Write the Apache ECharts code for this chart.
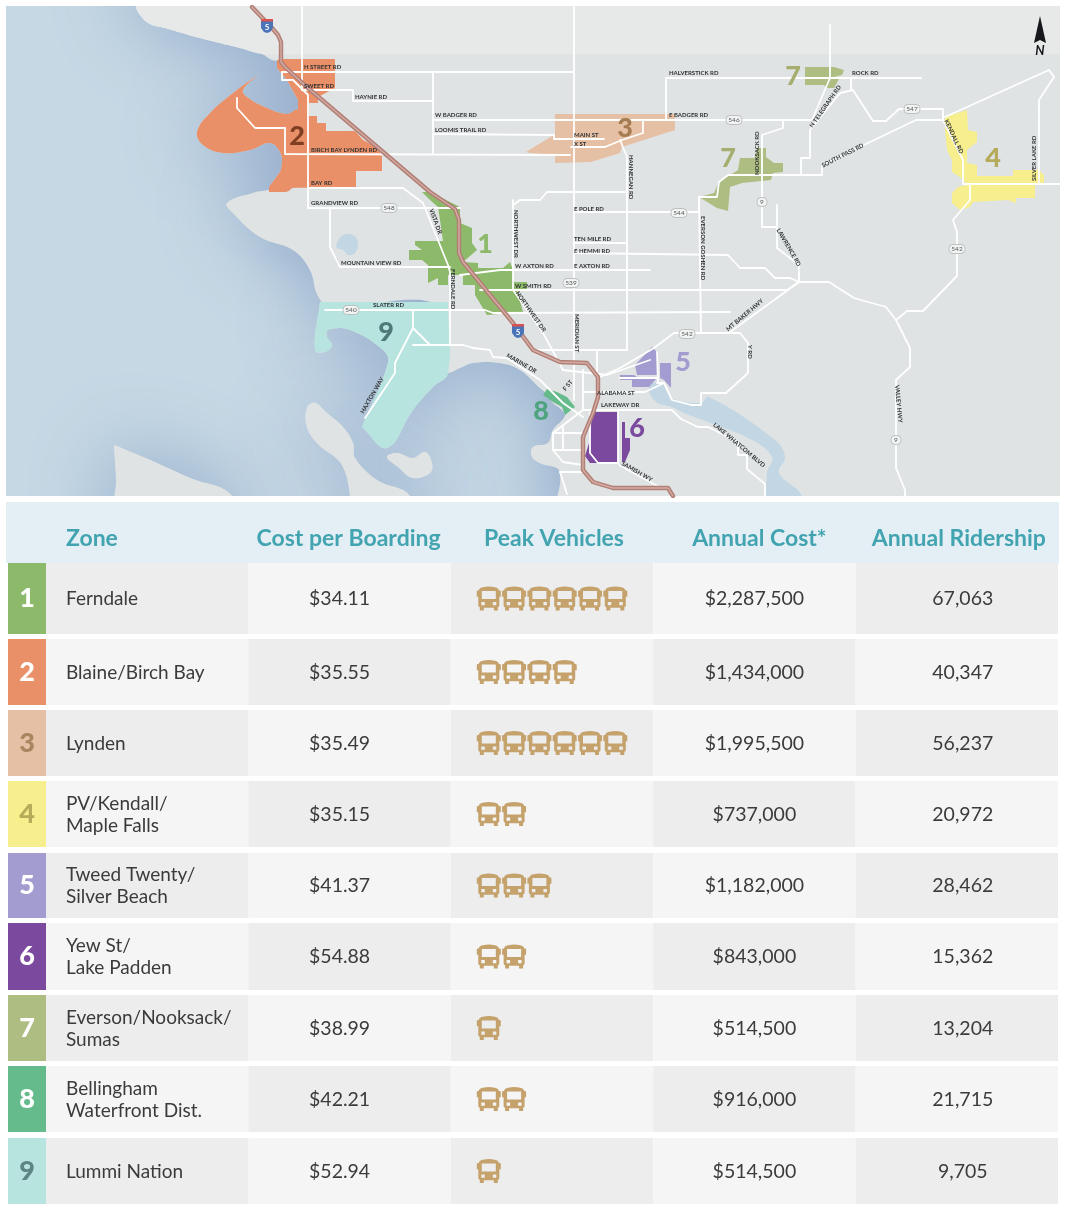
<!DOCTYPE html>
<html>
<head>
<meta charset="utf-8">
<title>Zone map and table</title>
<script src="https://cdn.jsdelivr.net/npm/echarts@6/dist/echarts.min.js"></script>
<style>
  html, body { margin: 0; padding: 0; background: #fff; }
  #chart { width: 1068px; height: 1214px; }
</style>
</head>
<body>
<div id="chart"></div>
<script>
// table values
const columns = ["Zone", "Cost per Boarding", "Peak Vehicles", "Annual Cost*", "Annual Ridership"];
const zoneNames = ["Ferndale", "Blaine/Birch Bay", "Lynden", "PV/Kendall/\nMaple Falls", "Tweed Twenty/\nSilver Beach", "Yew St/\nLake Padden", "Everson/Nooksack/\nSumas", "Bellingham\nWaterfront Dist.", "Lummi Nation"];
const costPerBoarding = [34.11, 35.55, 35.49, 35.15, 41.37, 54.88, 38.99, 42.21, 52.94];
const peakVehicles = [6, 4, 6, 2, 3, 2, 1, 2, 1];
const annualCost = [2287500, 1434000, 1995500, 737000, 1182000, 843000, 514500, 916000, 514500];
const annualRidership = [67063, 40347, 56237, 20972, 28462, 15362, 13204, 21715, 9705];

// row bands of the table, on the table's y axis
const rowTops = [563, 639, 710, 781, 853, 923, 995, 1066, 1138];
const rowBottoms = [634, 705, 776, 847, 918, 990, 1061, 1132, 1204];

// map: shoreline and water, in map units. land tucks under zones 2, 8 and 9
const landShapes = [
  [[136,-40],[136,6],[140,15],[150,24],[165,28],[200,38],[240,48],[262,54],[272,60],[281,62],[283,70],[291,82],[303,102],[306,150],[296,186],[269,190],[253,193],[227,203],[233,213],[260,237],[293,250],[310,270],[318,296],[330,306],[440,306],[440,370],[448,373],[460,368],[473,363],[500,363],[520,370],[540,388],[546,393],[553,403],[561,409],[565,416],[553,430],[548,443],[533,447],[532,457],[540,463],[560,472],[558,540],[1120,540],[1120,-40]],
  [[307,408],[315,403],[327,413],[343,427],[353,443],[355,458],[377,480],[410,496],[420,540],[363,540],[343,467],[317,443],[307,427]],
  [[387,457],[397,453],[413,458],[425,452],[432,463],[430,473],[413,478],[398,467]],
  [[114,445],[114,445],[150,460],[190,478],[232,496],[240,540],[114,540],[116,482]]
];
const canadaShape = [[136,-40],[136,6],[140,15],[150,24],[165,28],[200,38],[240,48],[262,54],[300,54],[500,54],[800,54],[1060,54],[1120,54],[1120,-40]];
const lakeShapes = [
  [[337,243],[343,235],[353,235],[358,243],[355,253],[348,255],[343,250],[337,248]],
  [[649,388],[661,382],[672,398],[701,403],[709,397],[775,440],[785,457],[779,473],[802,496],[810,540],[768,540],[767,473],[772,457],[752,440],[708,422],[684,413],[672,407],[656,402]]
];

// map: service zones, zoneShapeIds[i] is the zone of zoneShapes[i]
const zoneShapeIds = [1, 2, 3, 4, 5, 5, 5, 6, 6, 7, 7, 7, 8];
const zoneShapes = [
  [[422,192],[430,192],[460,207],[460,223],[472,228],[472,243],[477,250],[463,262],[478,263],[478,268],[503,268],[510,262],[513,270],[513,282],[527,282],[527,290],[517,290],[523,312],[487,315],[475,295],[475,285],[463,285],[463,275],[448,275],[448,285],[438,285],[438,278],[428,283],[428,265],[422,260],[409,260],[409,250],[422,250],[415,245],[415,241],[443,241],[440,220],[438,207],[430,200]],
  [[269,187],[269,192],[282,192],[282,188],[356,187],[356,171],[382,171],[382,156],[377,147],[363,140],[355,131],[326,131],[326,123],[317,123],[317,116],[309,116],[309,103],[318,103],[318,97],[335,88],[335,59],[282,59],[277,60],[277,68],[287,80],[298,100],[298,110],[295,130],[285,165]],
  [[555,114],[675,114],[675,130],[622,147],[620,153],[591,162],[555,163],[555,155],[530,153],[526,152],[552,136],[555,136]],
  [[945,117],[967,110],[968,130],[977,132],[977,142],[967,150],[967,163],[977,165],[977,176],[1013,176],[1013,170],[1039,170],[1044,175],[1044,183],[1035,185],[1035,198],[1016,198],[1016,203],[1008,200],[973,202],[970,207],[960,210],[952,203],[952,193],[958,187],[967,185],[960,177],[952,172],[952,160],[947,150],[945,130]],
  [[652,347],[657,352],[658,375],[637,375],[635,365]],
  [[620,375],[634,375],[637,377],[658,377],[649,387],[632,387],[632,380],[620,380]],
  [[660,363],[671,363],[671,388],[664,380],[660,378]],
  [[592,412],[618,412],[618,463],[590,463],[585,456],[590,440]],
  [[622,422],[625,422],[625,438],[630,438],[630,450],[625,462],[622,462]],
  [[805,67],[834,67],[844,70],[842,75],[834,77],[805,77]],
  [[805,79],[839,79],[834,88],[827,88],[824,85],[805,85]],
  [[740,158],[755,158],[757,148],[766,148],[766,157],[774,163],[783,163],[783,172],[773,173],[771,180],[742,183],[730,187],[728,211],[717,208],[699,197],[714,193],[719,182],[738,170]],
  [[547,389],[557,392],[567,397],[575,407],[565,415],[562,407],[553,402],[543,395]]
];
// the curved shore pieces of zones 2 and 9, repeated points keep their corners sharp
const coastZoneIds = [2, 9];
const coastZoneShapes = [
  [[258,75],[258,75],[237,90],[210,113],[197,132],[203,145],[223,153],[250,150],[270,143],[280,152],[282,163],[278,177],[270,187],[290,190],[305,150],[298,110],[287,114],[267,108],[247,97],[243,90],[258,75]],
  [[320,302],[320,302],[448,302],[448,302],[448,373],[433,387],[413,410],[387,448],[362,427],[362,427],[388,363],[383,350],[350,330],[328,330],[327,337],[332,345],[325,352],[315,350]]
];

// map: roads
const roads = [
  [[302,6],[302,90]],
  [[282,72],[282,80],[293,80],[308,95],[308,208]],
  [[308,208],[460,208]],
  [[308,188],[403,188],[423,203],[448,265],[450,272],[450,345]],
  [[413,345],[430,345],[463,345],[473,348],[490,350],[493,357],[507,358],[540,380],[563,403],[583,417]],
  [[413,311],[413,328],[430,345]],
  [[413,328],[395,363],[395,373],[365,418]],
  [[325,310],[485,310],[493,313],[730,312]],
  [[730,332],[799,282]],
  [[282,72],[574,72]],
  [[302,90],[353,90],[353,101],[433,101]],
  [[433,72],[433,153]],
  [[433,120],[812,120],[830,78],[830,25]],
  [[666,120],[666,78],[921,78]],
  [[433,134],[554,135],[554,139],[604,139]],
  [[643,120],[643,133],[622,140],[605,147],[571,147]],
  [[237,98],[237,108],[255,128],[285,128],[285,154],[570,155]],
  [[620,140],[627,157],[627,350]],
  [[574,6],[574,400]],
  [[513,200],[513,290],[543,333],[563,370]],
  [[513,205],[520,200],[540,200],[547,192],[627,192]],
  [[574,212],[699,212],[699,197],[717,197],[719,182],[728,175],[822,175],[822,165],[916,120],[943,120],[963,160],[963,184],[1060,184]],
  [[699,197],[701,333]],
  [[574,243],[627,243]],
  [[574,270],[627,270]],
  [[460,275],[500,270],[650,270]],
  [[480,290],[787,290],[799,282]],
  [[574,253],[728,255],[740,268],[765,268],[775,278],[790,278],[799,282]],
  [[777,205],[777,248],[799,265],[799,282]],
  [[783,120],[783,128],[762,135],[762,227],[777,227]],
  [[801,175],[801,158],[810,158],[810,130],[840,93],[853,90],[873,121],[886,121],[899,109],[943,109],[943,120]],
  [[851,78],[851,90]],
  [[945,117],[1049,70],[1054,77],[1039,100],[1039,184]],
  [[970,185],[970,200],[953,220],[957,232],[957,276],[923,311],[907,311],[896,320]],
  [[799,282],[829,282],[854,298],[886,307],[896,320],[910,348],[910,367],[896,380],[896,468],[905,490],[905,496]],
  [[600,377],[620,368],[654,348],[674,333],[740,333],[748,343],[748,373],[726,393],[701,393],[701,405],[691,405],[672,400],[664,383],[657,383]],
  [[657,352],[658,383]],
  [[620,378],[657,378]],
  [[583,410],[672,410],[681,419],[698,427],[708,427],[738,442],[738,455],[747,455],[747,469],[765,484],[765,496]],
  [[619,465],[661,488]],
  [[583,392],[645,392],[664,383]],
  [[533,350],[627,350]],
  [[597,350],[597,378]],
  [[583,370],[583,410]],
  [[563,370],[607,375],[650,360]],
  [[563,427],[563,450]],
  [[553,433],[583,433]],
  [[553,450],[583,450]],
  [[553,433],[583,410]],
  [[553,433],[553,450],[563,462],[583,465]],
  [[560,472],[583,472]],
  [[560,472],[567,494]],
  [[590,413],[590,453],[598,463],[618,463]],
  [[618,410],[618,463]],
  [[330,208],[330,247],[340,267],[450,267]]
];
const interstate5 = [[252,7],[272,28],[278,35],[281,42],[281,62],[285,67],[308,88],[430,192],[455,209],[459,220],[459,253],[463,262],[513,323],[533,350],[560,362],[587,363],[598,377],[598,397],[593,413],[583,437],[583,470],[593,482],[613,488],[668,488],[673,496]];
const shieldSpots = [[267,26],[518,331]];
const routeSpots = [[389,208,"548"],[351,310,"540"],[734,120,"546"],[912,109,"547"],[679,213,"544"],[571,283,"539"],[687,334,"542"],[957,249,"542"],[762,202,"9"],[896,440,"9"]];

// map: road names, [name, x, y, degrees counter-clockwise]
const roadNames = [
  ["H STREET RD",304,67,0],["SWEET RD",304,86,0],["HAYNIE RD",355,97,0],["W BADGER RD",435,115,0],["LOOMIS TRAIL RD",435,130,0],
  ["BIRCH BAY LYNDEN RD",311,150,0],["BAY RD",311,183,0],["GRANDVIEW RD",311,203,0],["MOUNTAIN VIEW RD",341,263,0],["SLATER RD",373,305,0],
  ["HALVERSTICK RD",669,73,0],["ROCK RD",852,73,0],["E BADGER RD",669,115,0],["MAIN ST",574,135,0],["X ST",574,144,0],
  ["E POLE RD",574,209,0],["TEN MILE RD",574,239,0],["E HEMMI RD",574,251,0],["E AXTON RD",574,266,0],["W AXTON RD",515,266,0],["W SMITH RD",515,286,0],
  ["ALABAMA ST",597,393,0],["LAKEWAY DR",601,405,0],
  ["HANNEGAN RD",631,155,-90],["VISTA DR",431,209,-70],["NORTHWEST DR",516,210,-90],["FERNDALE RD",453,269,-90],["NORTHWEST DR",517,292,-55],
  ["MERIDIAN ST",577,314,-90],["MARINE DR",507,355,-30],["HAXTON WAY",362,413,60],["F ST",564,390,50],["SAMISH WY",622,463,-30],
  ["LAKE WHATCOM BLVD",714,424,-40],["EVERSON GOSHEN RD",703,216,-90],["NOOKSACK RD",757,175,90],["N TELEGRAPH RD",811,127,55],["SOUTH PASS RD",822,166,27],
  ["KENDALL RD",946,120,-65],["SILVER LAKE RD",1034,181,90],["LAWRENCE RD",778,229,-60],["MT BAKER HWY",727,330,40],["Y RD",750,345,-90],["VALLEY HWY",897,385,-85]
];

// map: big zone numbers, [zone, x, y]
const zoneMarks = [[1,485,244],[2,297,136],[3,625,128],[4,993,158],[5,683,362],[6,637,428],[7,793,76],[7,728,158],[8,541,411],[9,386,332]];
const northArrow = [[1040,16],[1034,43],[1040,40],[1046,43]];

const zoneColors = ["#8db96a", "#ea9068", "#e6c0a4", "#f7ee8e", "#a39cd0", "#7b4a9e", "#aebd82", "#66bb8c", "#b8e4e0"];
const swatchTextColors = ["#fff", "#fff", "#ab8560", "#b5ab58", "#fff", "#fff", "#fff", "#fff", "#5d8584"];
const markColors = ["#8db96a", "#7d3e22", "#a67c52", "#b5ab5a", "#a39cd0", "#7b4a9e", "#a5ae6f", "#4ea47f", "#4f7a7a"];
const busPath = "M2 4Q2 2 6 1Q12 -0.5 18 1Q22 2 22 4H23Q24 4 24 5V10H22.5V18Q22.5 20 21 20V23H17V20.5H7V23H3V20Q1.5 20 1.5 18V10H0V5Q0 4 1 4ZM5 4.5V12H19V4.5ZM4.5 15V18H8V15ZM16 15V18H19.5V15Z";

const font = "Lato, 'Noto Sans', sans-serif";
const ink = "#3b3b3d";
const teal = "#41a4b0";
const money = v => "$" + v.toLocaleString("en-US", { maximumFractionDigits: 2, minimumFractionDigits: v < 1000 ? 2 : 0 });

function mapPolygons(shapes, style, smooth) {
  return {
    type: "custom",
    xAxisIndex: 0,
    yAxisIndex: 0,
    clip: true,
    silent: true,
    data: shapes.map((s, i) => [s[0][0], s[0][1], i]),
    renderItem: (params, api) => ({
      type: "polygon",
      shape: { points: shapes[api.value(2)].map(p => api.coord(p)), smooth: smooth || 0 },
      style: style(api.value(2))
    })
  };
}

function mapLines(lines, color, width) {
  return {
    type: "lines",
    coordinateSystem: "cartesian2d",
    xAxisIndex: 0,
    yAxisIndex: 0,
    polyline: true,
    silent: true,
    lineStyle: { color: color, width: width, opacity: 1, join: "round", cap: "round" },
    data: lines.map(l => ({ coords: l }))
  };
}

function mapItems(items, draw) {
  return {
    type: "custom",
    xAxisIndex: 0,
    yAxisIndex: 0,
    clip: true,
    silent: true,
    data: items.map((d, i) => [i]),
    renderItem: (params, api) => draw(items[api.value(0)], api)
  };
}

// one custom series per kind of table mark, data is [column, row]
function tableItems(data, draw) {
  return {
    type: "custom",
    xAxisIndex: 1,
    yAxisIndex: 1,
    silent: true,
    encode: { x: 0 },
    data: data,
    renderItem: (params, api) => {
      const col = api.value(0);
      const row = api.value(1);
      const band = api.size([1, 0])[0];
      const center = api.coord([col, rowTops[0]])[0];
      return draw(col, row, center, band, api, api.value(2));
    }
  };
}

function cellText(text, x, y, size, color, align, weight, lineHeight) {
  return {
    type: "text",
    style: {
      text: text, x: x, y: y, fill: color, align: align, verticalAlign: "middle",
      font: (weight || "normal") + " " + size + "px " + font,
      lineHeight: lineHeight || size
    }
  };
}

const cells = [];
const texts = [];
const buses = [];
zoneNames.forEach((z, r) => {
  columns.forEach((c, col) => cells.push([col, r]));
  [0, 1, 3, 4].forEach(col => texts.push([col, r]));
  for (let n = 0; n < peakVehicles[r]; n++) buses.push([2, r, n]);
});
const rowText = [zoneNames, costPerBoarding.map(money), null, annualCost.map(money), annualRidership.map(v => v.toLocaleString("en-US"))];
const valueShift = [0, -10, 0, 0, 6];
const rowMid = r => (rowTops[r] + rowBottoms[r]) / 2;

const option = {
  animation: false,
  backgroundColor: "#fff",
  textStyle: { fontFamily: font },
  grid: [
    { left: 6, top: 6, width: 1054, height: 490, show: true, backgroundColor: "#c6d8e4", borderWidth: 0 },
    { left: 46, top: 500, width: 1012, height: 710, show: false }
  ],
  xAxis: [
    { gridIndex: 0, type: "value", min: 6, max: 1060, show: false },
    { gridIndex: 1, type: "category", data: columns, show: false }
  ],
  yAxis: [
    { gridIndex: 0, type: "value", min: 6, max: 496, inverse: true, show: false },
    { gridIndex: 1, type: "value", min: 500, max: 1210, inverse: true, show: false }
  ],
  series: [
    // first pass throws the dark shore tint on the water, second covers it on the land
    mapPolygons(landShapes, () => ({ fill: "#dfe3e3", shadowBlur: 80, shadowColor: "#90a8ca" }), 0.4),
    mapPolygons(coastZoneShapes, () => ({ fill: "#dfe3e3", shadowBlur: 80, shadowColor: "#90a8ca" }), 0.4),
    mapPolygons([zoneShapes[1]], () => ({ fill: "#dfe3e3", shadowBlur: 80, shadowColor: "#90a8ca" })),
    mapPolygons(landShapes, () => ({ fill: "#dfe3e3" }), 0.4),
    mapPolygons([canadaShape], () => ({ fill: "#e7e9e9" }), 0.4),
    mapPolygons(lakeShapes, () => ({ fill: "#c2d6e4" }), 0.4),
    mapPolygons(coastZoneShapes, i => ({ fill: zoneColors[coastZoneIds[i] - 1] }), 0.4),
    mapPolygons(zoneShapes, i => ({ fill: zoneColors[zoneShapeIds[i] - 1] })),
    mapLines(roads, "#fff", 1.8),
    mapLines([interstate5], "#b27f76", 4.4),
    mapLines([interstate5], "#d3aca4", 1.4),
    mapPolygons([northArrow], () => ({ fill: "#15171a" })),
    mapItems(shieldSpots, (d, api) => {
      const p = api.coord([d[0], d[1]]);
      return {
        type: "group", x: p[0], y: p[1],
        children: [
          { type: "polygon", shape: { points: [[-6,-7],[6,-7],[6,2],[3,6],[0,7],[-3,6],[-6,2]] }, style: { fill: "#4a73b8" } },
          { type: "rect", shape: { x: -6, y: -7, width: 12, height: 2.5 }, style: { fill: "#d9534f" } },
          { type: "text", style: { text: "5", x: 0, y: 1, fill: "#fff", align: "center", verticalAlign: "middle", font: "bold 8px " + font } }
        ]
      };
    }),
    mapItems(routeSpots, (d, api) => {
      const p = api.coord([d[0], d[1]]);
      const w = d[2].length > 1 ? 16 : 10;
      return {
        type: "group", x: p[0], y: p[1],
        children: [
          { type: "rect", shape: { x: -w / 2, y: -4.5, width: w, height: 9, r: 4 }, style: { fill: "#f2f3f3", stroke: "#a9adad", lineWidth: 0.7 } },
          { type: "text", style: { text: d[2], x: 0, y: 0.3, fill: "#55595a", align: "center", verticalAlign: "middle", font: "6.5px " + font } }
        ]
      };
    }),
    mapItems(roadNames, (d, api) => {
      const p = api.coord([d[1], d[2]]);
      return {
        type: "text", x: p[0], y: p[1], rotation: d[3] * Math.PI / 180,
        style: { text: d[0], x: 0, y: 0, fill: "#2f3233", align: "left", verticalAlign: "middle", font: "bold 6px " + font }
      };
    }),
    mapItems(zoneMarks, (d, api) => {
      const p = api.coord([d[1], d[2]]);
      return { type: "text", style: { text: String(d[0]), x: p[0], y: p[1], fill: markColors[d[0] - 1], align: "center", verticalAlign: "middle", font: "900 27px " + font } };
    }),
    mapItems([[1040,51]], (d, api) => {
      const p = api.coord(d);
      return { type: "text", style: { text: "N", x: p[0], y: p[1], fill: "#15171a", align: "center", verticalAlign: "middle", font: "italic bold 13px " + font } };
    }),

    // table header
    tableItems([[0, 0]], (col, row, center, band, api) => {
      const top = api.coord([0, 502])[1];
      const bottom = api.coord([0, 563])[1];
      return { type: "rect", shape: { x: 6, y: top, width: 1053, height: bottom - top }, style: { fill: "#e4eef5" } };
    }),
    tableItems(columns.map((c, i) => [i, 0]), (col, row, center, band, api) => {
      const y = api.coord([0, 539])[1];
      const x = col === 0 ? center - band / 2 + 20 : center + [0, -1, 2, 5, 2][col];
      return cellText(columns[col], x, y, 23, teal, col === 0 ? "left" : "center", "bold");
    }),

    // table body: checker cells, zone swatches, texts, buses
    tableItems(cells, (col, row, center, band, api) => {
      const top = api.coord([0, rowTops[row]])[1];
      const bottom = api.coord([0, rowBottoms[row]])[1];
      return { type: "rect", shape: { x: center - band / 2, y: top, width: band, height: bottom - top }, style: { fill: (col + row) % 2 === 0 ? "#ecedec" : "#f5f5f5" } };
    }),
    tableItems(zoneNames.map((z, r) => [0, r]), (col, row, center, band, api) => {
      const top = api.coord([0, rowTops[row]])[1];
      const bottom = api.coord([0, rowBottoms[row]])[1];
      const left = center - band / 2;
      return {
        type: "group",
        children: [
          { type: "rect", shape: { x: left - 38, y: top, width: 38, height: bottom - top }, style: { fill: zoneColors[row] } },
          cellText(String(row + 1), left - 19, (top + bottom) / 2, 27, swatchTextColors[row], "center", "900")
        ]
      };
    }),
    tableItems(texts, (col, row, center, band, api) => {
      const y = api.coord([0, rowMid(row) + 0.5])[1];
      if (col === 0) return cellText(rowText[0][row], center - band / 2 + 20, y, 19, ink, "left", "normal", 22);
      return cellText(rowText[col][row], center + valueShift[col], y, 19.5, ink, "center");
    }),
    tableItems(buses, (col, row, center, band, api, n) => {
      const y = api.coord([0, rowMid(row)])[1];
      const x = center - band / 2 + 26 + n * 25.3;
      return {
        type: "path",
        shape: { pathData: busPath, layout: "cover", x: x, y: y - 12, width: 24, height: 24 },
        style: { fill: "#c5a26c" }
      };
    })
  ]
};

const chart = echarts.init(document.getElementById("chart"), null, { renderer: "canvas" });
chart.setOption(option);
</script>
</body>
</html>
